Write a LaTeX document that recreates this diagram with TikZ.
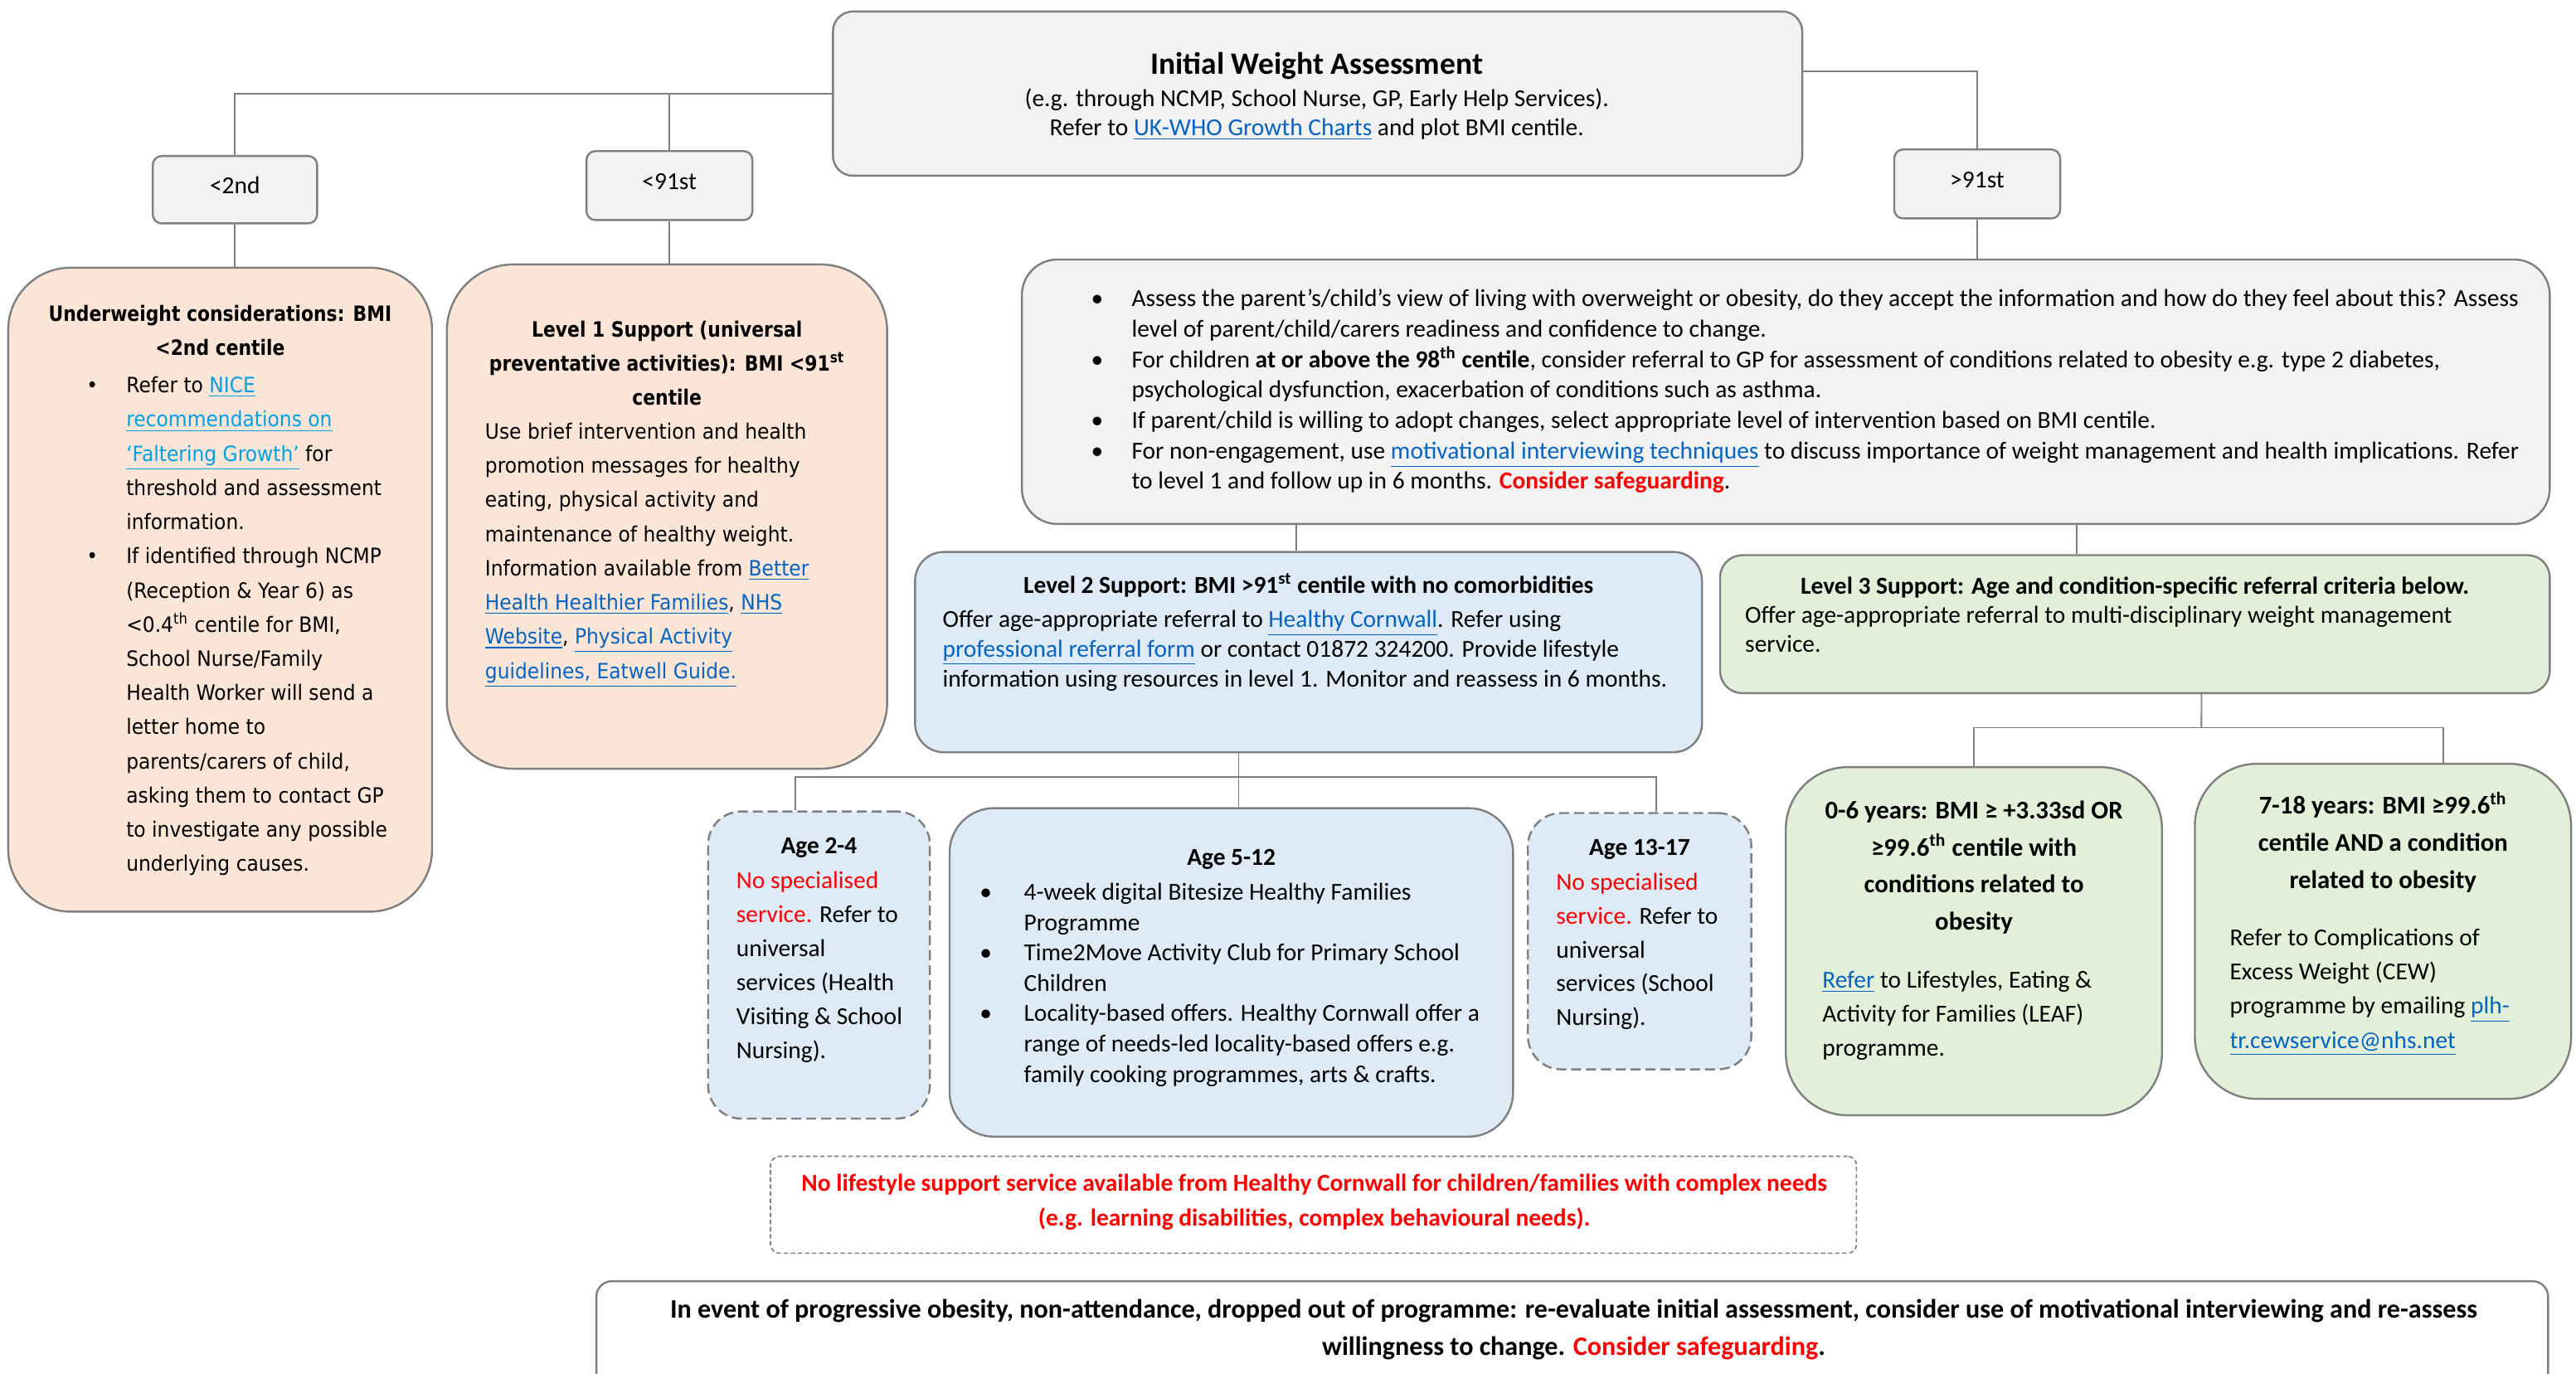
\documentclass[tikz,border=0pt]{standalone}
\usepackage{fontspec}
\setmainfont{Carlito}
\newfontfamily\verdfont[FakeStretch=0.92,BoldFeatures={FakeStretch=0.86}]{DejaVu Sans}
\usepackage{xcolor}
\usetikzlibrary{positioning, fit, calc}

\definecolor{edgegray}{HTML}{7F7F7F}
\definecolor{boxgray}{HTML}{F2F2F2}
\definecolor{peach}{HTML}{FBE5D6}
\definecolor{paleblue}{HTML}{DEEBF7}
\definecolor{palegreen}{HTML}{E2F0D9}
\definecolor{linkblue}{HTML}{0563C1}
\definecolor{nicecyan}{HTML}{00A0E3}
\definecolor{warnred}{HTML}{FF0000}

\newcommand\lnk[1]{\textcolor{linkblue}{\underline{#1}}}
\newcommand\nicelnk[1]{\textcolor{nicecyan}{\underline{#1}}}
\newcommand\warn[1]{\textcolor{warnred}{#1}}
\newcommand\bul[1]{\llap{\textbullet\hskip#1}}
\newcommand\lbl[1]{\raisebox{-1.6pt}[0pt][0pt]{#1}}

\tikzset{
  box/.style={draw=edgegray, line width=0.9pt, inner sep=0pt},
  greybox/.style={box, fill=boxgray},
  peachbox/.style={box, fill=peach},
  bluebox/.style={box, fill=paleblue},
  greenbox/.style={box, fill=palegreen},
  dashbox/.style={dash pattern=on 4.5pt off 2.2pt},
  branch/.style={draw=edgegray, line width=0.7pt},
  txt/.style={inner sep=0pt, align=left, font=\fontsize{11}{#1}\selectfont},
  ttl/.style={inner sep=0pt, align=center, font=\fontsize{11}{#1}\selectfont\bfseries},
  verd/.style={inner sep=0pt, align=left, font=\verdfont\fontsize{9.5}{15.4}\selectfont},
}

\begin{document}
\begin{tikzpicture}[x=0.74pt, y=-0.74pt]
\useasboundingbox (0,0) rectangle (1568,836);

% top of the tree
\node[greybox, rounded corners=9pt, fit={(507,7) (1097,107)}] (init) {};
\node[greybox, rounded corners=4pt, fit={(93,95) (193,136)}, font=\fontsize{11}{13}\selectfont] (lt2) {\lbl{<2nd}};
\node[greybox, rounded corners=4pt, fit={(357,92) (458,134)}, font=\fontsize{11}{13}\selectfont] (lt91) {\lbl{<91st}};
\node[greybox, rounded corners=4pt, fit={(1153,91) (1254,133)}, font=\fontsize{11}{13}\selectfont] (gt91) {\lbl{>91st}};

% centile boxes
\node[peachbox, rounded corners=28pt, fit={(5,163) (263,555)}] (under) {};
\node[peachbox, rounded corners=30pt, fit={(272,161) (540,468)}] (lvl1) {};
\node[greybox, rounded corners=16pt, fit={(622,158) (1552,319)}] (assess) {};
\node[bluebox, rounded corners=13pt, fit={(557,336) (1036,458)}] (lvl2) {};
\node[greenbox, rounded corners=10pt, fit={(1047,338) (1552,422)}] (lvl3) {};

% age groups
\node[bluebox, dashbox, rounded corners=15pt, fit={(431,494) (566,681)}] (age24) {};
\node[bluebox, rounded corners=20pt, fit={(578,492) (921,692)}] (age512) {};
\node[bluebox, dashbox, rounded corners=15pt, fit={(930,495) (1066,651)}] (age1317) {};
\node[greenbox, rounded corners=28pt, fit={(1087,467) (1316,679)}] (yrs06) {};
\node[greenbox, rounded corners=28pt, fit={(1336,465) (1565,669)}] (yrs718) {};

% notes at the bottom
\node[draw=edgegray, line width=0.6pt, dash pattern=on 2pt off 1.2pt, rounded corners=4pt, inner sep=0pt, fit={(469,704) (1130,763)}] (complex) {};
\node[draw=edgegray, line width=0.9pt, rounded corners=7pt, inner sep=0pt, fit={(363,780) (1551,848)}] (review) {};

% connectors
\draw[branch] (init.west) -| (lt2.north);
\draw[branch] (lt91.north) -- (lt91.north |- init.west);
\draw[branch] ([yshift=10pt]init.east) -| (gt91.north);
\draw[branch] (lt2.south) -- (lt2.south |- under.north);
\draw[branch] (lt91.south) -- (lt91.south |- lvl1.north);
\draw[branch] (gt91.south) -- (gt91.south |- assess.north);
\draw[branch] ([xshift=-5.5pt]lvl2.north) -- ([xshift=-5.5pt]lvl2.north |- assess.south);
\draw[branch] ([xshift=-26.3pt]lvl3.north) -- ([xshift=-26.3pt]lvl3.north |- assess.south);
\coordinate (bus2) at (754,473);
\coordinate (bus3) at (1340,443);
\draw[branch] ([xshift=-31.5pt]lvl2.south) -- ([xshift=-31.5pt]lvl2.south |- age512.north);
\draw[branch] ([xshift=-10.7pt]age24.north) |- (bus2) -| ([xshift=7.4pt]age1317.north);
\draw[branch] ([xshift=30pt]lvl3.south) -- (bus3);
\draw[branch] (yrs06.north) |- (bus3) -| ([xshift=27pt]yrs718.north);

% texts (multi-line nodes sit on the baseline of their last line)
\node[anchor=base, inner sep=0pt, font=\fontsize{14}{16}\selectfont\bfseries] (t-init) at (801.5,45.1) {Initial Weight Assessment};
\node[txt=13, align=center, anchor=base] (b-init) at (801.5,82.4) {(e.g. through NCMP, School Nurse, GP, Early Help Services).\\ Refer to \lnk{UK-WHO Growth Charts} and plot BMI centile.};

\node[verd, align=center, anchor=base] (t-under) at (134,216.3) {\textbf{Underweight considerations: BMI}\\ \textbf{<2nd centile}};
\node[verd, anchor=base west] (b-under) at (76.6,530.5) {\bul{12.7pt}Refer to \nicelnk{NICE}\\ \nicelnk{recommendations on}\\ \nicelnk{‘Faltering Growth’} for\\ threshold and assessment\\ information.\\ \bul{12.7pt}If identified through NCMP\\ (Reception \& Year 6) as\\ <0.4\textsuperscript{th} centile for BMI,\\ School Nurse/Family\\ Health Worker will send a\\ letter home to\\ parents/carers of child,\\ asking them to contact GP\\ to investigate any possible\\ underlying causes.};

\node[verd, align=center, anchor=base] (t-lvl1) at (406,246.6) {\textbf{Level 1 Support (universal}\\ \textbf{preventative activities): BMI <91\textsuperscript{st}}\\ \textbf{centile}};
\node[verd, anchor=base west] (b-lvl1) at (295,413) {Use brief intervention and health\\ promotion messages for healthy\\ eating, physical activity and\\ maintenance of healthy weight.\\ Information available from \lnk{Better}\\ \lnk{Health Healthier Families}, \lnk{NHS}\\ \lnk{Website}, \lnk{Physical Activity}\\ \lnk{guidelines, Eatwell Guide.}};

\node[txt=13.7, anchor=base west] (b-assess) at (688.6,297.8) {\bul{12.8pt}Assess the parent’s/child’s view of living with overweight or obesity, do they accept the information and how do they feel about this? Assess\\ level of parent/child/carers readiness and confidence to change.\\ \bul{12.8pt}For children \textbf{at or above the 98\textsuperscript{th} centile}, consider referral to GP for assessment of conditions related to obesity e.g. type 2 diabetes,\\ psychological dysfunction, exacerbation of conditions such as asthma.\\ \bul{12.8pt}If parent/child is willing to adopt changes, select appropriate level of intervention based on BMI centile.\\ \bul{12.8pt}For non-engagement, use \lnk{motivational interviewing techniques} to discuss importance of weight management and health implications. Refer\\ to level 1 and follow up in 6 months. \warn{\textbf{Consider safeguarding}}.};

\node[ttl=13, anchor=base] (t-lvl2) at (796.5,361) {Level 2 Support: BMI >91\textsuperscript{st} centile with no comorbidities};
\node[txt=13.36, anchor=base west] (b-lvl2) at (573.5,418.1) {Offer age-appropriate referral to \lnk{Healthy Cornwall}. Refer using\\ \lnk{professional referral form} or contact 01872 324200. Provide lifestyle\\ information using resources in level 1. Monitor and reassess in 6 months.};

\node[ttl=13, anchor=base] (t-lvl3) at (1299.5,361.8) {Level 3 Support: Age and condition-specific referral criteria below.};
\node[txt=13.1, anchor=base west] (b-lvl3) at (1062,397.1) {Offer age-appropriate referral to multi-disciplinary weight management\\ service.};

\node[ttl=13, anchor=base] (t-age24) at (498.5,519.6) {Age 2-4};
\node[txt=15.3, anchor=base west] (b-age24) at (448,644.5) {\warn{No specialised}\\ \warn{service.} Refer to\\ universal\\ services (Health\\ Visiting \& School\\ Nursing).};

\node[ttl=13, anchor=base] (t-age512) at (749.5,526.7) {Age 5-12};
\node[txt=13.67, anchor=base west] (b-age512) at (623,658.8) {\bul{14.4pt}4-week digital Bitesize Healthy Families\\ Programme\\ \bul{14.4pt}Time2Move Activity Club for Primary School\\ Children\\ \bul{14.4pt}Locality-based offers. Healthy Cornwall offer a\\ range of needs-led locality-based offers e.g.\\ family cooking programmes, arts \& crafts.};

\node[ttl=13, anchor=base] (t-age1317) at (998,520.8) {Age 13-17};
\node[txt=15.2, anchor=base west] (b-age1317) at (947,624.3) {\warn{No specialised}\\ \warn{service.} Refer to\\ universal\\ services (School\\ Nursing).};

\node[inner sep=0pt, align=center, anchor=base, font=\fontsize{11.5}{16.7}\selectfont\bfseries] (t-yrs06) at (1201.5,566.2) {0-6 years: BMI ≥ +3.33sd OR\\ ≥99.6\textsuperscript{th} centile with\\ conditions related to\\ obesity};
\node[txt=15.3, anchor=base west] (b-yrs06) at (1109,642.8) {\lnk{Refer} to Lifestyles, Eating \&\\ Activity for Families (LEAF)\\ programme.};

\node[inner sep=0pt, align=center, anchor=base, font=\fontsize{11.5}{16.8}\selectfont\bfseries] (t-yrs718) at (1450.5,541) {7-18 years: BMI ≥99.6\textsuperscript{th}\\ centile AND a condition\\ related to obesity};
\node[txt=15.35, anchor=base west] (b-yrs718) at (1357,638.1) {Refer to Complications of\\ Excess Weight (CEW)\\ programme by emailing \lnk{plh-}\\ \lnk{tr.cewservice@nhs.net}};

\node[ttl=15.5, text=warnred, anchor=base] (t-complex) at (800,746.2) {No lifestyle support service available from Healthy Cornwall for children/families with complex needs\\ (e.g. learning disabilities, complex behavioural needs).};
\node[inner sep=0pt, align=center, anchor=base, font=\fontsize{12}{16.8}\selectfont\bfseries] (t-review) at (957.9,825.3) {In event of progressive obesity, non-attendance, dropped out of programme: re-evaluate initial assessment, consider use of motivational interviewing and re-assess\\ willingness to change. \warn{Consider safeguarding}.};
\end{tikzpicture}
\end{document}
